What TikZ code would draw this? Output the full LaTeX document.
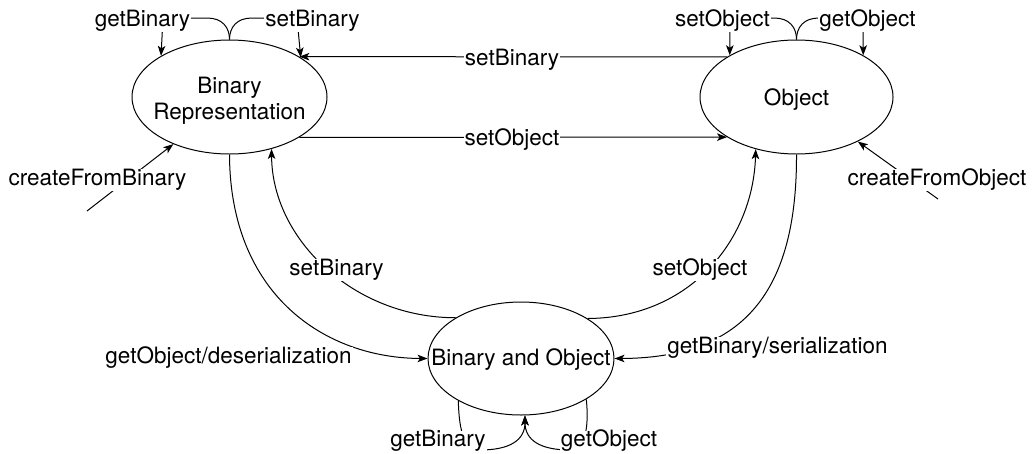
\documentclass[tikz,border=0pt]{standalone}
\usepackage{fontspec}
\setmainfont{TeX Gyre Heros}
\usetikzlibrary{arrows.meta,shapes.geometric}
\newcommand\mytxt[2]{\raisebox{#1}[0pt][0pt]{\makebox[0pt]{#2}}}
\begin{document}
\begin{tikzpicture}[x=1pt,y=-1pt,
  every node/.style={font=\fontsize{22.5}{27}\selectfont},
  state/.style={draw, ellipse, line width=1pt, inner sep=0pt},
  lbl/.style={fill=white, inner xsep=1pt, inner ysep=0pt, text height=16pt, text depth=5.5pt},
  arr/.style={-{Stealth[length=10pt,width=7.5pt,inset=2.5pt]}, line width=1pt}]
\fill[white] (0,0) rectangle (1033,453);
\useasboundingbox (0,0) rectangle (1033,453);

% states
\node[state, minimum width=195pt, minimum height=114pt] (br) at (229.5,97)
  {\mytxt{3.7pt}{Binary}\mytxt{-22.3pt}{Representation}};
\node[state, minimum width=193pt, minimum height=114pt] (ob) at (796.5,97)
  {\mytxt{-8.5pt}{Object}};
\node[state, minimum width=186pt, minimum height=113pt] (bo) at (521,358.5)
  {\mytxt{-7.2pt}{Binary and Object}};

\coordinate (cfb) at (87,211);
\coordinate (cfo) at (938,199);

% self loops on top
\draw[arr] (br.north) .. controls (229.5,27) and (222,18) .. (207,18) -- (163,18) -- (br.149);
\draw[arr] (br.north) .. controls (229.5,27) and (237,18) .. (252,18) -- (297,18) -- (br.29);
\draw[arr] (ob.north) .. controls (796.5,27) and (789,18) .. (774,18) -- (730,18) -- (ob.148);
\draw[arr] (ob.north) .. controls (796.5,27) and (804,18) .. (819,18) -- (863,18) -- (ob.32);

% horizontal
\draw[arr] (ob.150) -- (br.30);
\draw[arr] (br.-30) -- (ob.-150);

% creation
\draw[arr] (cfb) -- (br.-140);
\draw[arr] (cfo) -- (ob.-36);

% big curves
\draw[arr] (bo.148) .. controls (355,318) and (272,240) .. (br.-51);
\draw[arr] (br.south) .. controls (230,295) and (325,358) .. (bo.west);
\draw[arr] (bo.31) .. controls (690,318) and (753,240) .. (ob.-128);
\draw[arr] (ob.south) .. controls (797,290) and (745,358) .. (bo.east);

% bottom loops
\draw[arr] (bo.-146) .. controls (459,425) and (462,450) .. (480,450) .. controls (510,450) and (525,440) .. (bo.-86);
\draw[arr] (bo.-32) .. controls (589,425) and (586,450) .. (570,450) .. controls (540,450) and (525,440) .. (bo.-86);

% labels
\node[lbl] (lgb1) at (142.5,21.5) {getBinary};
\node[lbl] (lsb1) at (312.5,21.5) {setBinary};
\node[lbl] (lso1) at (722.5,21.5) {setObject};
\node[lbl] (lgo1) at (867.5,21.5) {getObject};
\node[lbl] (lsbh) at (512,59.75) {setBinary};
\node[lbl] (lsoh) at (512,139.75) {setObject};
\node[lbl] (lcfb) at (97.5,179.75) {createFromBinary};
\node[lbl] (lcfo) at (937,179.75) {createFromObject};
\node[lbl] (lsbc) at (336.5,269.75) {setBinary};
\node[lbl] (lsoc) at (700,269.75) {setObject};
\node[lbl] (ldes) at (228.5,358) {getObject/deserialization};
\node[lbl] (lser) at (777.5,348) {getBinary/serialization};
\node[lbl] (lgb2) at (438,441.5) {getBinary};
\node[lbl] (lgo2) at (609,441.5) {getObject};
\end{tikzpicture}
\end{document}
